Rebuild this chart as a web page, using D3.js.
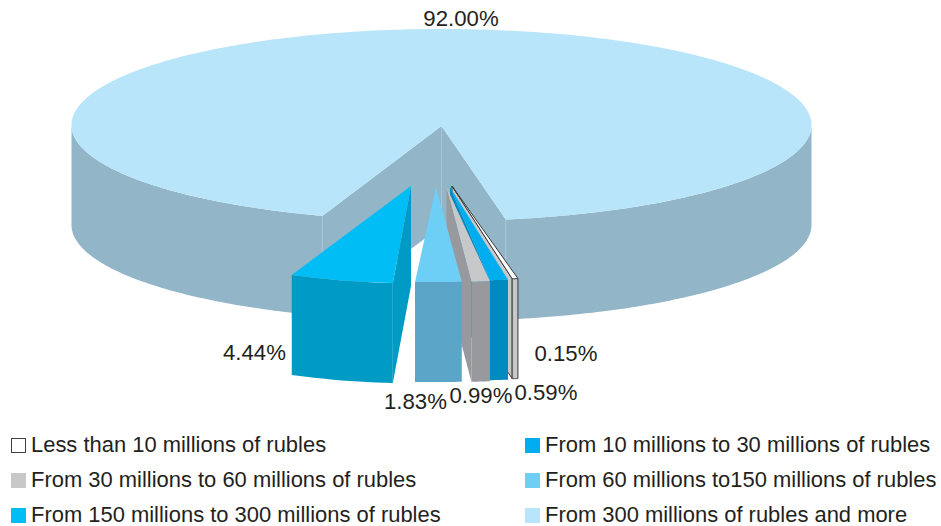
<!DOCTYPE html>
<html><head><meta charset="utf-8">
<script src="https://cdn.jsdelivr.net/npm/d3@7"></script>
<style>html,body{margin:0;padding:0;background:#fff}svg{display:block}text{font-family:"Liberation Sans",Arial,sans-serif;fill:#231f20}</style>
</head><body><svg id="c" width="941" height="526"></svg>
<script>
const categories=["Less than 10 millions of rubles","From 10 millions to 30 millions of rubles","From 30 millions to 60 millions of rubles","From 60 millions to150 millions of rubles","From 150 millions to 300 millions of rubles","From 300 millions of rubles and more"];
const values=[0.15,0.59,0.99,1.83,4.44,92.00];
const valueLabels=["0.15%","0.59%","0.99%","1.83%","4.44%","92.00%"];
const swatchColors=["#ffffff","#00aeef","#c7c8ca","#6dcff6","#00bdf6","#b9e5fb"];
const frontColors=["#c7c8ca","#008bc0","#97999c","#5ba6c8","#009bc4","#93b5c8"];

const svg=d3.select("#c");
const cx=441.5,cy=125,rx=370,ry=96,depth=100;
const rad=Math.PI/180;
// angles run from the bottom of the ellipse: 0 = nearest the viewer, positive = right
const pie=d3.pie().sort(null).value(d=>d).startAngle(10*rad).endAngle((10-360)*rad);
const arcs=pie(values);
const placement=[
 {ax:452,ay:186,odx:-31.5,k:1.68,ky:1,ody:59},
 {ax:450,ay:187,odx:-15,k:1.34,ky:1,ody:60},
 {ax:446.5,ay:187,odx:10.2,k:.81,ky:1,ody:61},
 {ax:436,ay:187,odx:-6.5,k:1.1,ky:1,ody:61},
 {ax:411,ay:186,odx:-30.5,k:1,ky:1.6,ody:4.5},
 {ax:441.5,ay:126,odx:0,k:1,ky:1,ody:0}];
const outer=(a,p)=>[cx+p.odx+p.k*rx*Math.sin(a),cy+p.ody+p.ky*ry*Math.cos(a)];
const sample=(a0,a1,p,n)=>d3.range(n+1).map(i=>outer(a0+(a1-a0)*i/n,p));
const line=d3.line();
const closed=pts=>line(pts)+"Z";
const down=pts=>pts.map(q=>[q[0],q[1]+depth]);
const poly=(pts,fill,o={})=>svg.append("path").attr("d",closed(pts)).attr("fill",fill)
  .attr("stroke",o.stroke||"none").attr("stroke-width",o.sw||0).attr("stroke-linejoin","round");

// main slice
{
 const i=5,a=arcs[i],p=placement[i],apex=[p.ax,p.ay];
 const top=sample(a.startAngle,a.endAngle,p,360);
 const L=top[0],R=top[top.length-1];
 const wl=sample(a.startAngle,-90*rad,p,80), wr=sample(a.endAngle+360*rad,90*rad,p,80);
 [wl,wr].forEach(w=>poly(w.concat(down(w).reverse()),frontColors[i]));
 poly([apex,L,[L[0],L[1]+depth],[apex[0],apex[1]+depth]],frontColors[i]);
 poly([apex,R,[R[0],R[1]+depth],[apex[0],apex[1]+depth]],frontColors[i]);
 poly([apex].concat(top),swatchColors[i]);
 [L,apex,R].forEach(q=>svg.append("line").attr("x1",q[0]).attr("x2",q[0]).attr("y1",q[1]+1).attr("y2",q[1]+depth)
   .attr("stroke","#a9c6d6").attr("stroke-width",1));
}

// exploded slices, painted right to left so each hides the wall of its right neighbour
[0,1,2,3,4].forEach(i=>{
 const a=arcs[i],p=placement[i],apex=[p.ax,p.ay];
 const pts=sample(a.startAngle,a.endAngle,p,12);
 const R=pts[0],Lf=pts[pts.length-1];
 const o=i===0?{stroke:"#3a3a3c",sw:1}:{};
 const side=i===4?R:Lf;
 if(i!==3) poly([apex,side,[side[0],side[1]+depth],[apex[0],apex[1]+depth]],frontColors[i],o);
 poly(pts.concat(down(pts).reverse()),frontColors[i],o);
 poly([apex].concat(pts),swatchColors[i],o);
});

// value labels
const labelPos=[[566,361],[546,400],[481,403],[415.5,409],[254.5,360],[461,26]];
svg.selectAll("text.v").data(values).join("text").attr("class","v")
 .attr("x",(d,i)=>labelPos[i][0]).attr("y",(d,i)=>labelPos[i][1]).attr("text-anchor","middle")
 .attr("font-size",22.2).text((d,i)=>valueLabels[i]);

// legend
const lx=[11,525],ly=[438,473,508];
categories.forEach((c,i)=>{
 const col=i%2,row=Math.floor(i/2);
 svg.append("rect").attr("x",lx[col]+(i===0?.5:0)).attr("y",ly[row]+(i===0?.5:0)).attr("width",i===0?14:15).attr("height",i===0?14:15)
  .attr("fill",swatchColors[i]).attr("stroke",i===0?"#414042":"none");
 svg.append("text").attr("x",lx[col]+20).attr("y",ly[row]+14).attr("font-size",21.95).text(c);
});
</script></body></html>
